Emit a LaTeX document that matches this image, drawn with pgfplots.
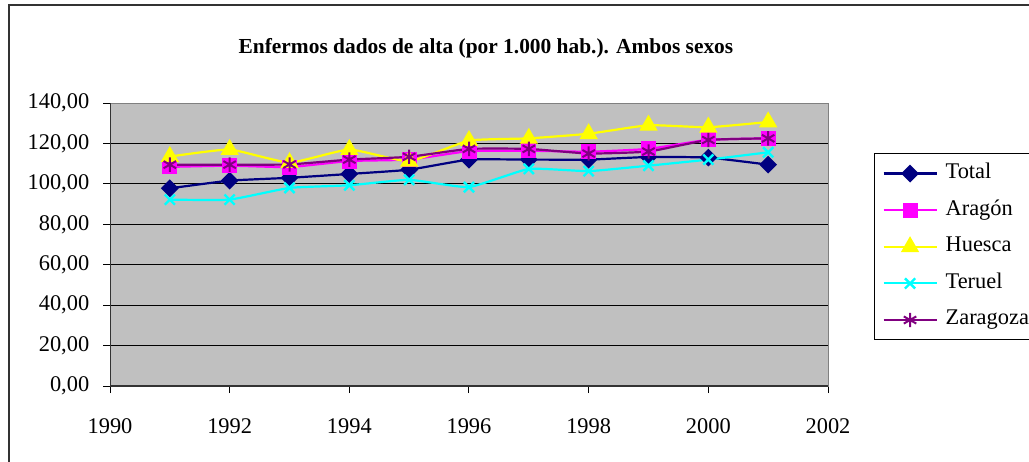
\documentclass[border=0pt]{standalone}
\usepackage{pgfplots}
\usepackage{pgfplotstable}
\pgfplotsset{compat=1.18}
\usepackage{fontspec}
\setmainfont{Liberation Serif}

\definecolor{plotbg}{HTML}{C0C0C0}
\definecolor{cTotal}{HTML}{000080}
\definecolor{cAragon}{HTML}{FF00FF}
\definecolor{cHuesca}{HTML}{FFFF00}
\definecolor{cTeruel}{HTML}{00FFFF}
\definecolor{cZaragoza}{HTML}{800080}

% year, values per 1000 inhabitants
\pgfplotstableread{
year Total  Aragon Huesca Teruel Zaragoza
1991 97.8   108.4  113.5  92.2   109.5
1992 101.6  109.0  117.0  92.2   109.5
1993 103.0  108.3  110.5  98.0   109.6
1994 104.9  111.3  117.0  99.3   112.0
1995 107.0  112.0  111.2  102.0  113.4
1996 112.0  116.2  121.4  98.4   117.3
1997 112.0  116.4  122.5  107.4  117.3
1998 112.0  115.9  124.8  106.3  115.0
1999 113.3  117.3  129.0  109.0  116.0
2000 113.0  121.8  128.0  112.0  121.7
2001 109.5  122.5  130.6  115.6  122.5
}\datatable

\begin{document}
\begin{tikzpicture}
\useasboundingbox (0pt,0pt) rectangle (514.5pt,-230.5pt);
\draw[line width=0.6pt, black!80] (4.5pt,-240pt) -- (4.5pt,-2.5pt) -- (530pt,-2.5pt);
\node[anchor=base, font=\fontsize{10.7}{13}\selectfont\bfseries] at (243pt,-26.6pt)
  {Enfermos dados de alta (por 1.000 hab.). Ambos sexos};
\begin{axis}[
  at={(55pt,-193pt)}, anchor=south west,
  scale only axis, width=359pt, height=141.5pt,
  xmin=1990, xmax=2002, ymin=0, ymax=140,
  xtick={1990,1992,...,2002}, ytick={0,20,...,140},
  axis background/.style={fill=plotbg},
  axis line style={draw=black!50, line width=0.5pt},
  ymajorgrids, grid style={black, line width=0.5pt},
  tick align=outside, major tick length=3.5pt,
  xtick pos=bottom, ytick pos=left,
  tick style={black, line width=0.5pt},
  ticklabel style={font=\fontsize{11.2}{12}\selectfont},
  /pgf/number format/assume math mode=true,
  xticklabel style={/pgf/number format/1000 sep={}, yshift=-9pt},
  yticklabel style={/pgf/number format/.cd, fixed, fixed zerofill, precision=2, use comma, 1000 sep={}, /tikz/xshift=-3pt},
  line width=1.1pt,
  smooth, tension=0.25,
  legend image code/.code={\draw[line width=1.1pt, mark repeat=2,mark phase=2] plot coordinates {(0pt,0pt) (13.25pt,0pt) (26.5pt,0pt)};},
  legend cell align=left,
  legend style={at={(1.064,0.823)}, anchor=north west, draw=black, line width=0.5pt,
    font=\fontsize{11.2}{12}\selectfont, inner xsep=4pt, inner ysep=5pt, row sep=8.3pt,
    nodes={inner sep=0pt, text height=7.5pt, text depth=2.5pt},
    /tikz/every even column/.append style={column sep=4pt}},
  /tikz/every odd column/.append style={column sep=4pt},
]
\addplot[cTotal, mark=square*, mark size=2.6pt, mark options={rotate=45, fill=cTotal, solid}] table[x=year, y=Total] {\datatable};
\addplot[cAragon, mark=square*, mark size=3.2pt, mark options={fill=cAragon}] table[x=year, y=Aragon] {\datatable};
\addplot[cHuesca, mark=triangle*, mark size=4.2pt, mark options={fill=cHuesca}] table[x=year, y=Huesca] {\datatable};
\addplot[cTeruel, mark=x, mark size=3.6pt, mark options={line width=1.2pt}] table[x=year, y=Teruel] {\datatable};
\addplot[cZaragoza, mark=asterisk, mark size=3.6pt, mark options={line width=1pt}] table[x=year, y=Zaragoza] {\datatable};
\legend{Total, Aragón, Huesca, Teruel, Zaragoza}
\draw[black!80, line width=0.6pt] (rel axis cs:0,1) -- (rel axis cs:0,0) -- (rel axis cs:1,0);
\end{axis}
\end{tikzpicture}
\end{document}
